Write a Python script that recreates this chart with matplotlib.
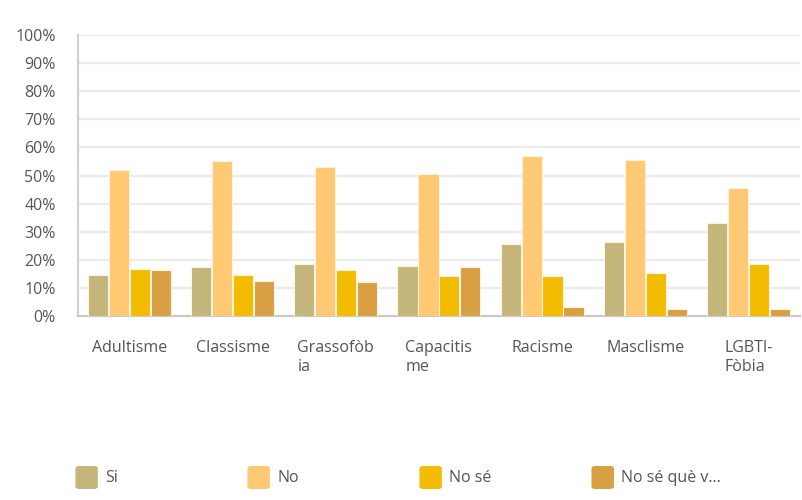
import numpy as np
import matplotlib.pyplot as plt
from matplotlib.patches import FancyBboxPatch

plt.rcParams['font.family'] = ['Open Sans', 'DejaVu Sans']

categories = ["Adultisme", "Classisme", "Grassofòb\nia", "Capacitis\nme",
              "Racisme", "Masclisme", "LGBTI-\nFòbia"]
series_names = ["Si", "No", "No sé", "No sé què v..."]
si = [14.7, 17.3, 18.4, 17.8, 25.6, 26.2, 33.1]
no = [52.0, 55.2, 53.1, 50.4, 56.8, 55.6, 45.7]
no_se = [16.8, 14.7, 16.3, 14.1, 14.1, 15.2, 18.4]
no_se_que = [16.3, 12.6, 12.0, 17.3, 3.2, 2.6, 2.5]
yticks = [0, 10, 20, 30, 40, 50, 60, 70, 80, 90, 100]

colors = ["#c4b57a", "#ffc873", "#f4bc00", "#d8a043"]
txt = "#555555"

fig = plt.figure(figsize=(8.02, 5.0), dpi=100)
ax = fig.add_axes([0.0973, 0.368, 0.9, 0.562])

x = np.arange(len(categories))
w = 0.195
for i, vals in enumerate([si, no, no_se, no_se_que]):
    ax.bar(x + (i - 1.5) * (w + 0.008), vals, width=w, color=colors[i],
           edgecolor="#fff3dc", linewidth=0.8, zorder=3)

ax.set_xlim(-0.5, len(categories) - 0.5)
ax.set_ylim(0, 100)
ax.set_yticks(yticks)
ax.set_yticklabels([f"{t}%" for t in yticks], color=txt, fontsize=11.5)
ax.set_xticks(x)
ax.set_xticklabels(categories, color=txt, fontsize=11.5, multialignment="left",
                   linespacing=1.3)
ax.tick_params(axis="both", length=0)
ax.tick_params(axis="x", pad=17)
ax.tick_params(axis="y", pad=16)
ax.grid(axis="y", color="#ebebeb", linewidth=1.6, zorder=0)
for s in ["top", "right"]:
    ax.spines[s].set_visible(False)
ax.spines["left"].set_color("#d0d0d0")
ax.spines["bottom"].set_color("#c8c8c8")
ax.spines["left"].set_linewidth(1.5)
ax.spines["bottom"].set_linewidth(1.5)

# legend at the bottom
for i, name in enumerate(series_names):
    lx = 0.094 + i * 0.2145
    fig.add_artist(FancyBboxPatch((lx, 0.022), 0.028, 0.046,
                                  boxstyle="round,pad=0,rounding_size=0.005",
                                  transform=fig.transFigure, facecolor=colors[i],
                                  edgecolor="none"))
    fig.text(lx + 0.037, 0.043, name, color=txt, fontsize=11.5, va="center")

fig.savefig("out.png", dpi=100)
